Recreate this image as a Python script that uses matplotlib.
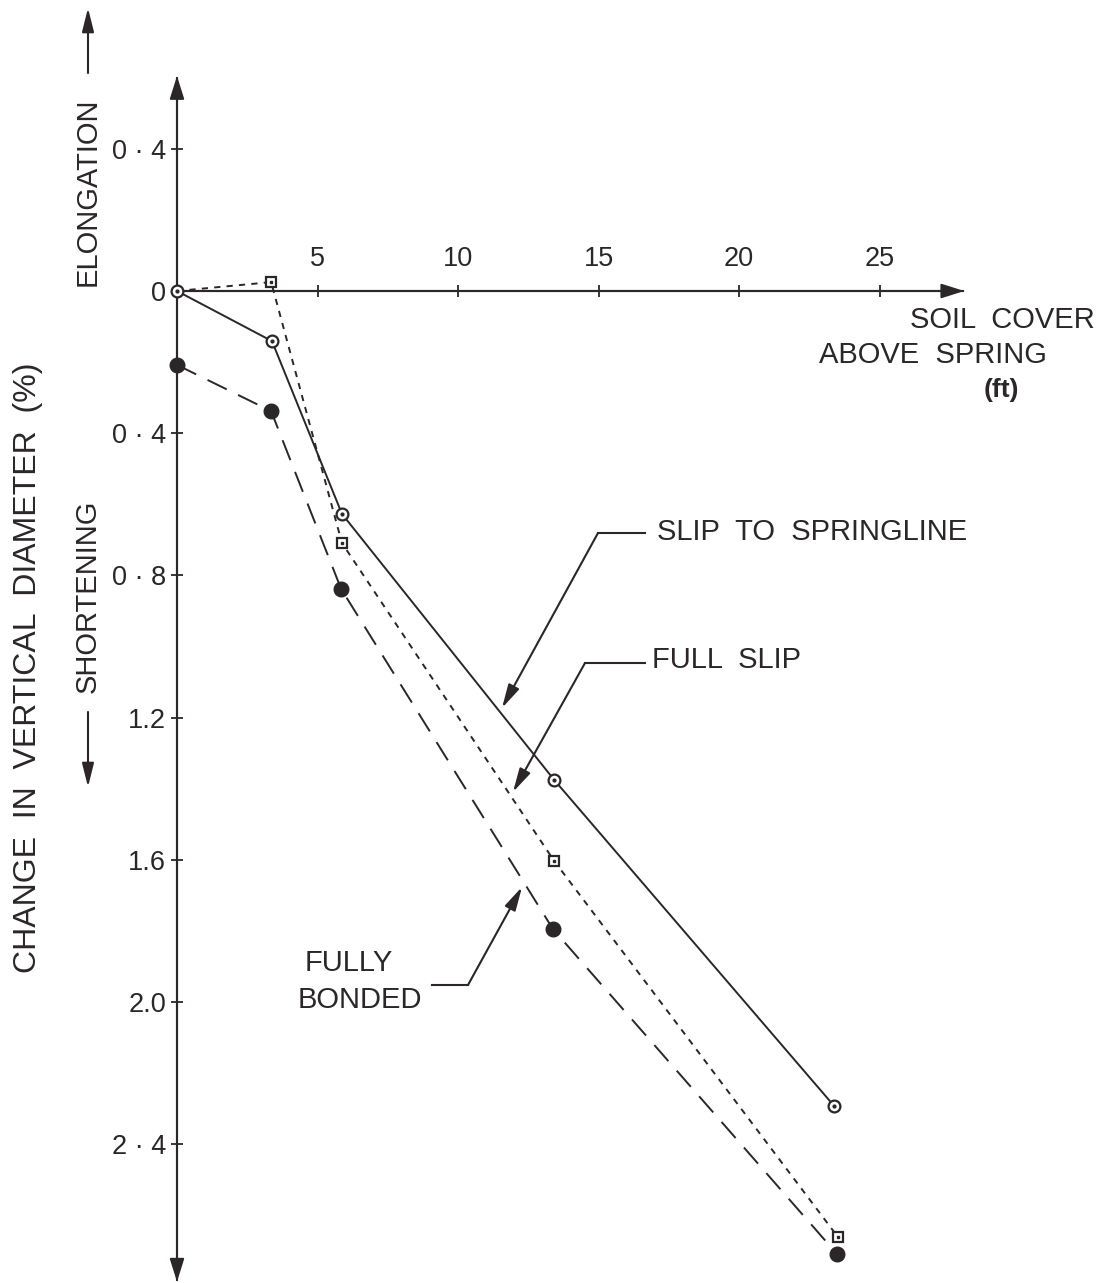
import matplotlib
matplotlib.use("Agg")
import matplotlib.pyplot as plt

plt.rcParams['font.family'] = ['Liberation Sans', 'DejaVu Sans']

# ---------------- data ----------------
soil_cover_slip_spring = [0.0, 3.38, 5.87, 13.42, 23.38]
change_slip_spring = [0.0, 0.141, 0.627, 1.375, 2.292]

soil_cover_full_slip = [0.0, 3.35, 5.87, 13.42, 23.52]
change_full_slip = [0.0, -0.025, 0.709, 1.603, 2.661]

soil_cover_bonded = [0.0, 3.35, 5.84, 13.38, 23.49]
change_bonded = [0.208, 0.338, 0.838, 1.795, 2.709]

x_ticks = [5, 10, 15, 20, 25]
x_tick_labels = ["5", "10", "15", "20", "25"]
y_ticks = [-0.4, 0.0, 0.4, 0.8, 1.2, 1.6, 2.0, 2.4]
y_tick_labels = ["0 \u00b7 4", "0", "0 \u00b7 4", "0 \u00b7 8", "1.2", "1.6", "2.0", "2 \u00b7 4"]

INK = '#2b2628'

# pixel -> data mapping of the drawing (figure is 1112 x 1283 px)
PX_PER_FT = 28.1
PX_PER_PCT = 355.5
X0_PX, Y0_PX = 177, 291

fig = plt.figure(figsize=(11.12, 12.83), dpi=100)
fig.patch.set_facecolor('white')
ax = fig.add_axes([0, 0, 1, 1])
ax.set_xlim(-X0_PX / PX_PER_FT, (1112 - X0_PX) / PX_PER_FT)
ax.set_ylim((1283 - Y0_PX) / PX_PER_PCT, -Y0_PX / PX_PER_PCT)
ax.set_facecolor('white')

y_top, y_bot = -0.60, 2.782
x_end = 27.97

# spines at the origin
for s in ['right', 'bottom']:
    ax.spines[s].set_visible(False)
ax.spines['left'].set_position(('data', 0))
ax.spines['top'].set_position(('data', 0))
ax.spines['left'].set_bounds(y_bot, y_top)
ax.spines['top'].set_bounds(0, x_end)
for s in ['left', 'top']:
    ax.spines[s].set_color(INK)
    ax.spines[s].set_linewidth(1.5)

ax.xaxis.set_ticks_position('top')
ax.set_xticks(x_ticks)
ax.set_xticklabels(x_tick_labels)
ax.set_yticks(y_ticks)
ax.set_yticklabels(y_tick_labels)
ax.tick_params(axis='x', direction='inout', length=8, width=1.3, color=INK,
               labelcolor=INK, labelsize=19.5, pad=10)
ax.tick_params(axis='y', direction='inout', length=8, width=1.3, color=INK,
               labelcolor=INK, labelsize=19.5, pad=4)

# axis arrows
arr = dict(arrowstyle='-|>,head_length=0.7,head_width=0.22', color=INK, lw=1.5,
           mutation_scale=20, shrinkA=0, shrinkB=0)
ax.annotate('', xy=(0, y_top - 0.005), xytext=(0, 0), arrowprops=arr)
ax.annotate('', xy=(0, y_bot + 0.005), xytext=(0, 0), arrowprops=arr)
ax.annotate('', xy=(x_end + 0.05, 0), xytext=(0, 0), arrowprops=arr)

# ---------------- series ----------------
ax.plot(soil_cover_slip_spring, change_slip_spring, color=INK, lw=1.4, zorder=3)
ax.plot(soil_cover_full_slip, change_full_slip, color=INK, lw=1.4,
        linestyle=(0, (3.2, 3.2)), zorder=3)
ax.plot(soil_cover_bonded, change_bonded, color=INK, lw=1.4,
        linestyle=(0, (11, 6.5)), zorder=3)

ax.plot(soil_cover_slip_spring, change_slip_spring, ls='none', marker='o', ms=8.5,
        mfc='white', mec=INK, mew=1.6, zorder=5)
ax.plot(soil_cover_slip_spring, change_slip_spring, ls='none', marker='o', ms=2,
        color=INK, zorder=6)
ax.plot(soil_cover_full_slip[1:], change_full_slip[1:], ls='none', marker='s', ms=7.5,
        mfc='white', mec=INK, mew=1.6, zorder=5)
ax.plot(soil_cover_full_slip[1:], change_full_slip[1:], ls='none', marker='s', ms=2,
        color=INK, zorder=6)
ax.plot(soil_cover_bonded, change_bonded, ls='none', marker='o', ms=10.5,
        color=INK, zorder=5)

# ---------------- annotations ----------------
def px(xp, yp):
    return ((xp - X0_PX) / PX_PER_FT, (yp - Y0_PX) / PX_PER_PCT)

lead = dict(arrowstyle='-|>,head_length=0.8,head_width=0.2', color=INK, lw=1.5,
            mutation_scale=18, shrinkA=0, shrinkB=0)

def leader(p_text, p_knee, p_tip):
    a, b, c = px(*p_text), px(*p_knee), px(*p_tip)
    ax.plot([a[0], b[0]], [a[1], b[1]], color=INK, lw=1.5)
    ax.annotate('', xy=c, xytext=b, arrowprops=lead)

leader((645, 533), (598, 533), (502, 708))
leader((645, 663), (585, 663), (513, 792))
leader((432, 985), (468, 985), (522, 887))

tk = dict(color=INK, fontsize=21)
ax.text(*px(657, 532), 'SLIP  TO  SPRINGLINE', ha='left', va='center', **tk)
ax.text(*px(652, 660), 'FULL  SLIP', ha='left', va='center', **tk)
ax.text(*px(349, 963), 'FULLY', ha='center', va='center', **tk)
ax.text(*px(360, 1000), 'BONDED', ha='center', va='center', **tk)

ax.text(*px(1095, 320), 'SOIL  COVER', ha='right', va='center', **tk)
ax.text(*px(1047, 355), 'ABOVE  SPRING', ha='right', va='center', **tk)
ax.text(*px(1001, 390), '(ft)', ha='center', va='center', color=INK, fontsize=19,
        fontweight='bold')

# left-hand titles
ax.text(*px(88, 192), 'ELONGATION', rotation=90, ha='center', va='center', **tk)
ax.annotate('', xy=px(88, 8), xytext=px(88, 73), arrowprops=lead)
ax.text(*px(88, 596), 'SHORTENING', rotation=90, ha='center', va='center', **tk)
ax.annotate('', xy=px(88, 787), xytext=px(88, 712), arrowprops=lead)
ax.text(*px(28, 668), 'CHANGE  IN  VERTICAL  DIAMETER  (%)', rotation=90,
        ha='center', va='center', color=INK, fontsize=23)

fig.savefig('out.png', dpi=100, facecolor='white')
